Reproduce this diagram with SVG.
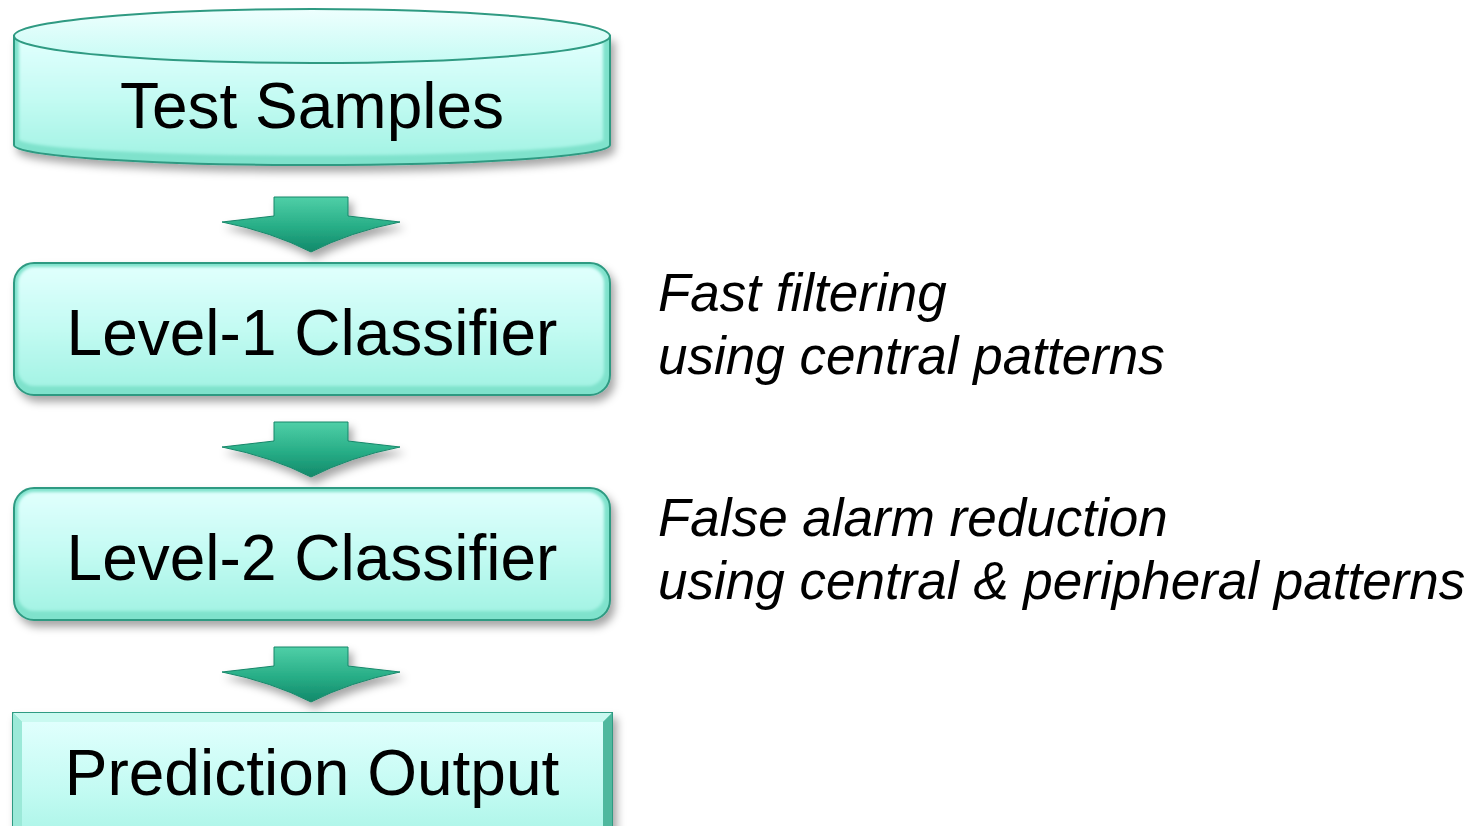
<svg xmlns="http://www.w3.org/2000/svg" width="1484" height="826" viewBox="0 0 1484 826">
  <defs>
    <style>
      .label { font-family: "Liberation Sans", Arial, sans-serif; font-size: 64px; fill: #000; text-anchor: middle; }
      .note { font-family: "Liberation Sans", Arial, sans-serif; font-size: 53px; font-style: italic; fill: #000; }
      .edge { fill: #7fe2cc; stroke: #2f9a82; stroke-width: 2; }
      .face { fill: url(#faceGrad); }
      .arrow { fill: url(#arrowGrad); stroke: #17876a; stroke-width: 1; }
    </style>
    <linearGradient id="faceGrad" x1="0" y1="0" x2="0" y2="1">
      <stop offset="0" stop-color="#e0fffd"/>
      <stop offset="0.5" stop-color="#c4fbf3"/>
      <stop offset="1" stop-color="#a4f3e4"/>
    </linearGradient>
    <linearGradient id="topGrad" x1="0" y1="0" x2="0" y2="1">
      <stop offset="0" stop-color="#eefffe"/>
      <stop offset="1" stop-color="#c6fbf4"/>
    </linearGradient>
    <linearGradient id="arrowGrad" x1="0" y1="0" x2="0" y2="1">
      <stop offset="0" stop-color="#4fcfa7"/>
      <stop offset="0.55" stop-color="#27ad86"/>
      <stop offset="1" stop-color="#12896a"/>
    </linearGradient>
    <filter id="shadow" x="-10%" y="-20%" width="125%" height="150%">
      <feDropShadow dx="4" dy="6" stdDeviation="4" flood-color="#000" flood-opacity="0.35"/>
    </filter>
    <filter id="soft" x="-5%" y="-5%" width="110%" height="110%">
      <feGaussianBlur stdDeviation="1.5"/>
    </filter>
  </defs>

  <!-- connectors: block arrows between the stages -->
  <g id="connectors" filter="url(#shadow)">
    <path class="arrow" d="M274,197 L348,197 L348,216 L400,222 Q350,232 311,252 Q272,232 222,222 L274,216 Z"/>
    <path class="arrow" d="M274,422 L348,422 L348,441 L400,447 Q350,457 311,477 Q272,457 222,447 L274,441 Z"/>
    <path class="arrow" d="M274,647 L348,647 L348,666 L400,672 Q350,682 311,702 Q272,682 222,672 L274,666 Z"/>
  </g>

  <!-- data store cylinder -->
  <g id="test-samples">
    <g filter="url(#shadow)">
      <path class="edge" d="M14,36 L14,145 A298,20 0 0 0 610,145 L610,36 Z"/>
    </g>
    <path class="face" filter="url(#soft)" d="M19,40 L19,140 A293,17 0 0 0 603,140 L603,40 Z"/>
    <ellipse cx="312" cy="36" rx="298" ry="27" fill="url(#topGrad)" stroke="#2f9a82" stroke-width="2"/>
    <text class="label" x="312" y="128">Test Samples</text>
  </g>

  <!-- first stage -->
  <g id="level-1">
    <rect class="edge" x="14" y="263" width="596" height="132" rx="20" filter="url(#shadow)"/>
    <rect class="face" x="18" y="267" width="586" height="119" rx="16" filter="url(#soft)"/>
    <text class="label" x="312" y="355">Level-1 Classifier</text>
  </g>

  <!-- second stage -->
  <g id="level-2">
    <rect class="edge" x="14" y="488" width="596" height="132" rx="20" filter="url(#shadow)"/>
    <rect class="face" x="18" y="492" width="586" height="119" rx="16" filter="url(#soft)"/>
    <text class="label" x="312" y="580">Level-2 Classifier</text>
  </g>

  <!-- output block, beveled -->
  <g id="prediction-output">
    <rect class="edge" x="13" y="713" width="599" height="140" filter="url(#shadow)"/>
    <path d="M13,713 L612,713 L603,722 L22,722 Z" fill="#c9f9f0"/>
    <path d="M612,713 L612,853 L603,853 L603,722 Z" fill="#4fb89e"/>
    <path d="M13,713 L22,722 L22,853 L13,853 Z" fill="#9be9d8"/>
    <rect class="face" x="22" y="722" width="581" height="131"/>
    <text class="label" x="312" y="795">Prediction Output</text>
  </g>

  <!-- stage descriptions -->
  <g id="notes">
    <text class="note" x="658" y="311">Fast filtering</text>
    <text class="note" x="658" y="374">using central patterns</text>
    <text class="note" x="658" y="536">False alarm reduction</text>
    <text class="note" x="658" y="599">using central &amp; peripheral patterns</text>
  </g>
</svg>
